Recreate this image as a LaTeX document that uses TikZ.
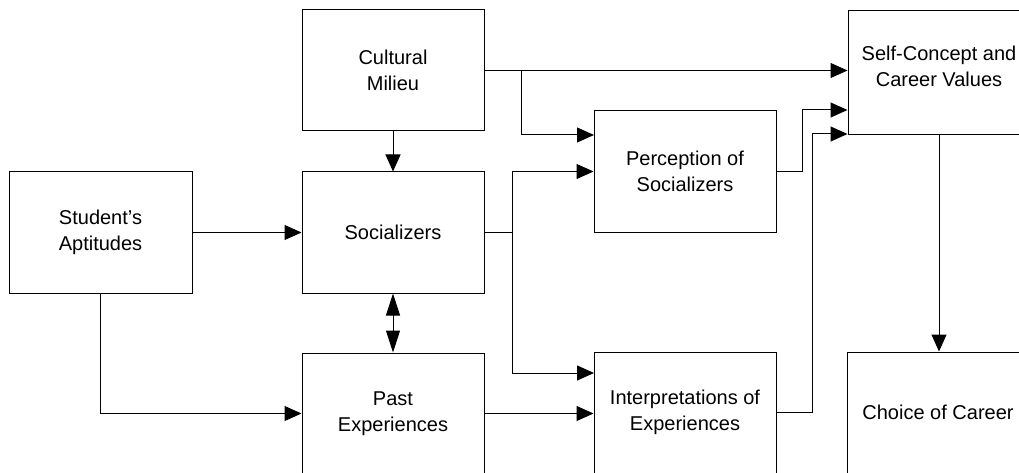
\documentclass[tikz,border=0pt]{standalone}
\usepackage{fontspec}
\setmainfont{Liberation Sans}
\usetikzlibrary{arrows.meta}
\begin{document}
\begin{tikzpicture}[x=1pt,y=-1pt,
  box/.style={draw,line width=1pt,minimum width=182pt,minimum height=121pt,inner sep=0pt,align=center,
    font=\fontsize{20}{26}\selectfont},
  lbl/.style={align=center,inner sep=0pt,font=\fontsize{20}{26}\selectfont},
  conn/.style={line width=1pt},
  arr/.style={conn,-{Triangle[length=17pt,width=15pt]}},
  dbl/.style={conn,{Triangle[length=22pt,width=14pt]}-{Triangle[length=22pt,width=14pt]}}]
\useasboundingbox (0,0) rectangle (1019,473);
\clip (0,0) rectangle (1019,473);
% boxes
\node[box,minimum width=183pt] (sa) at (100.5,232.5) {Student's\\Aptitudes};
\node[box] (cm) at (393,70.5) {Cultural\\Milieu};
\node[box] (so) at (393,232.5) {Socializers};
\node[box] (pe) at (393,413.5) {Past\\Experiences};
\node[box] (ps) at (685,171.5) {Perception of\\Socializers};
\node[box] (ie) at (685,412.5) {Interpretations of\\Experiences};
\node[box,minimum height=124pt] (sc) at (939,73) {};
\node[lbl] (sct) at (939,66) {Self-Concept and\\Career Values};
\node[box] (cc) at (938,412.5) {Choice of Career};
% junctions
\coordinate (j1) at (521,70.5);
\coordinate (p1) at (594,135);
\coordinate (j2) at (512,232.5);
\coordinate (i1) at (594,373);
\coordinate (k1) at (802,110);
\coordinate (k2) at (812,134);
% connectors
\draw[arr] (sa) -- (so);
\draw[arr] (sa.south) |- (pe.west);
\draw[arr] (cm.south) -- (so.north);
\draw[dbl] (so.south) -- (pe.north);
\draw[arr] (cm.east) -- (cm.east -| sc.west);
\draw[arr] (j1) |- (p1);
\draw[conn] (so.east) -- (j2);
\draw[arr] (j2) |- (ps.west);
\draw[arr] (j2) |- (i1);
\draw[arr] (pe.east) -- (pe.east -| ie.west);
\draw[arr] (ps.east) -| (k1) -- (k1 -| sc.west);
\draw[arr] (ie.east) -| (k2) -- (k2 -| sc.west);
\draw[arr] (sc.south) -- (sc.south |- cc.north);
\end{tikzpicture}
\end{document}
